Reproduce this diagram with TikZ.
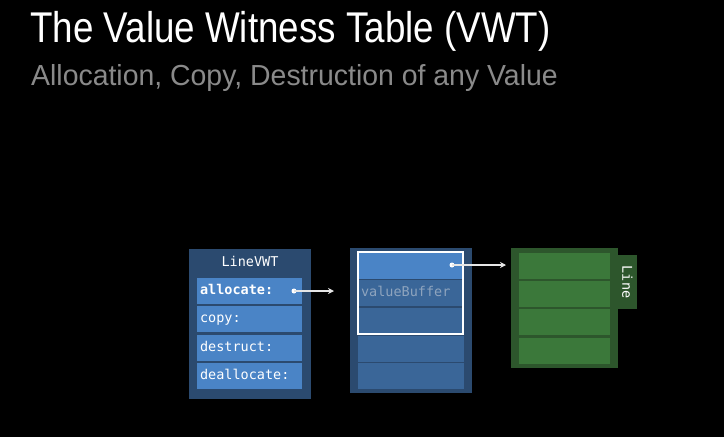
\documentclass[tikz,border=0pt]{standalone}
\usepackage{fontspec}
\setmainfont{Liberation Sans}
\newfontfamily\codefont{DejaVu Sans Mono}
\usetikzlibrary{arrows.meta}
\definecolor{outerblue}{HTML}{2B4A6F}
\definecolor{rowblue}{HTML}{4A84C6}
\definecolor{rowdark}{HTML}{3A6698}
\definecolor{outergreen}{HTML}{2D562C}
\definecolor{rowgreen}{HTML}{3B783A}
\definecolor{subgray}{HTML}{8A8A8A}
\definecolor{buftext}{HTML}{8EA4BE}
\definecolor{arrowgray}{HTML}{E6E6E6}
\begin{document}
\begin{tikzpicture}[x=1pt,y=-1pt,
  box/.style={draw=none,inner sep=0pt,outer sep=0pt},
  rowtext/.style={box,font=\codefont\fontsize{13.5}{14}\selectfont,text=white,
    text width=99pt,inner xsep=3pt,align=left,minimum height=26pt,text height=10pt,text depth=3pt},
  dotnode/.style={circle,fill=white,inner sep=0pt,minimum size=5pt},
  ptr/.style={draw=arrowgray,line width=1.2pt,-{Stealth[length=6pt,width=6pt]}}]
\fill[black] (0,0) rectangle (724,437);
\useasboundingbox (0,0) rectangle (724,437);
% titles
\node[anchor=base west,inner sep=0pt,text=white,font=\fontsize{43}{45}\selectfont] (title) at (30,42) {\scalebox{0.855}[1]{The Value Witness Table (VWT)}};
\node[anchor=base west,inner sep=0pt,text=subgray,font=\fontsize{29}{31}\selectfont] (subtitle) at (31,85) {\scalebox{0.98}[1]{Allocation, Copy, Destruction of any Value}};
% left table
\node[box,fill=outerblue,minimum width=122pt,minimum height=150pt] (vwt) at (250,324) {};
\node[box,text=white,font=\codefont\fontsize{13.5}{14}\selectfont] (vwtlabel) at (250,261) {LineVWT};
\node[rowtext,fill=rowblue] (alloc) at (249.5,290.5) {\textbf{allocate:}};
\node[rowtext,fill=rowblue] (copy) at (249.5,319) {copy:};
\node[rowtext,fill=rowblue] (destr) at (249.5,347.5) {destruct:};
\node[rowtext,fill=rowblue] (dealloc) at (249.5,376) {deallocate:};
\node[dotnode] (d1) at (294,291) {};
\coordinate (e1) at (334,291);
% middle buffer
\node[box,fill=outerblue,minimum width=122pt,minimum height=145pt] (buf) at (411,320.5) {};
\node[box,fill=rowblue,minimum width=106pt,minimum height=26pt] (b1) at (411,265.5) {};
\node[rowtext,fill=rowdark,text=buftext,text width=100pt] (b2) at (411,293) {valueBuffer};
\node[box,fill=rowdark,minimum width=106pt,minimum height=26pt] (b3) at (411,320.5) {};
\node[box,fill=rowdark,minimum width=106pt,minimum height=26pt] (b4) at (411,348.5) {};
\node[box,fill=rowdark,minimum width=106pt,minimum height=26pt] (b5) at (411,376) {};
\node[draw=white,line width=1.4pt,inner sep=0pt,minimum width=105pt,minimum height=82pt] (hl) at (410.5,293) {};
\node[dotnode] (d2) at (452,265) {};
\coordinate (e2) at (506,265);
% right green box
\node[box,fill=outergreen,minimum width=19pt,minimum height=54pt] (tab) at (627.5,282) {};
\node[box,text=white,rotate=-90,font=\codefont\fontsize{13.5}{14}\selectfont] (tablabel) at (627.5,282) {Line};
\node[box,fill=outergreen,minimum width=107pt,minimum height=120pt] (line) at (564.5,308) {};
\node[box,fill=rowgreen,minimum width=91pt,minimum height=26pt] (g1) at (564.5,266) {};
\node[box,fill=rowgreen,minimum width=91pt,minimum height=26pt] (g2) at (564.5,294) {};
\node[box,fill=rowgreen,minimum width=91pt,minimum height=26pt] (g3) at (564.5,322) {};
\node[box,fill=rowgreen,minimum width=91pt,minimum height=26pt] (g4) at (564.5,351) {};
% pointers
\draw[ptr] (d1.center) -- (e1);
\draw[ptr] (d2.center) -- (e2);
\end{tikzpicture}
\end{document}
